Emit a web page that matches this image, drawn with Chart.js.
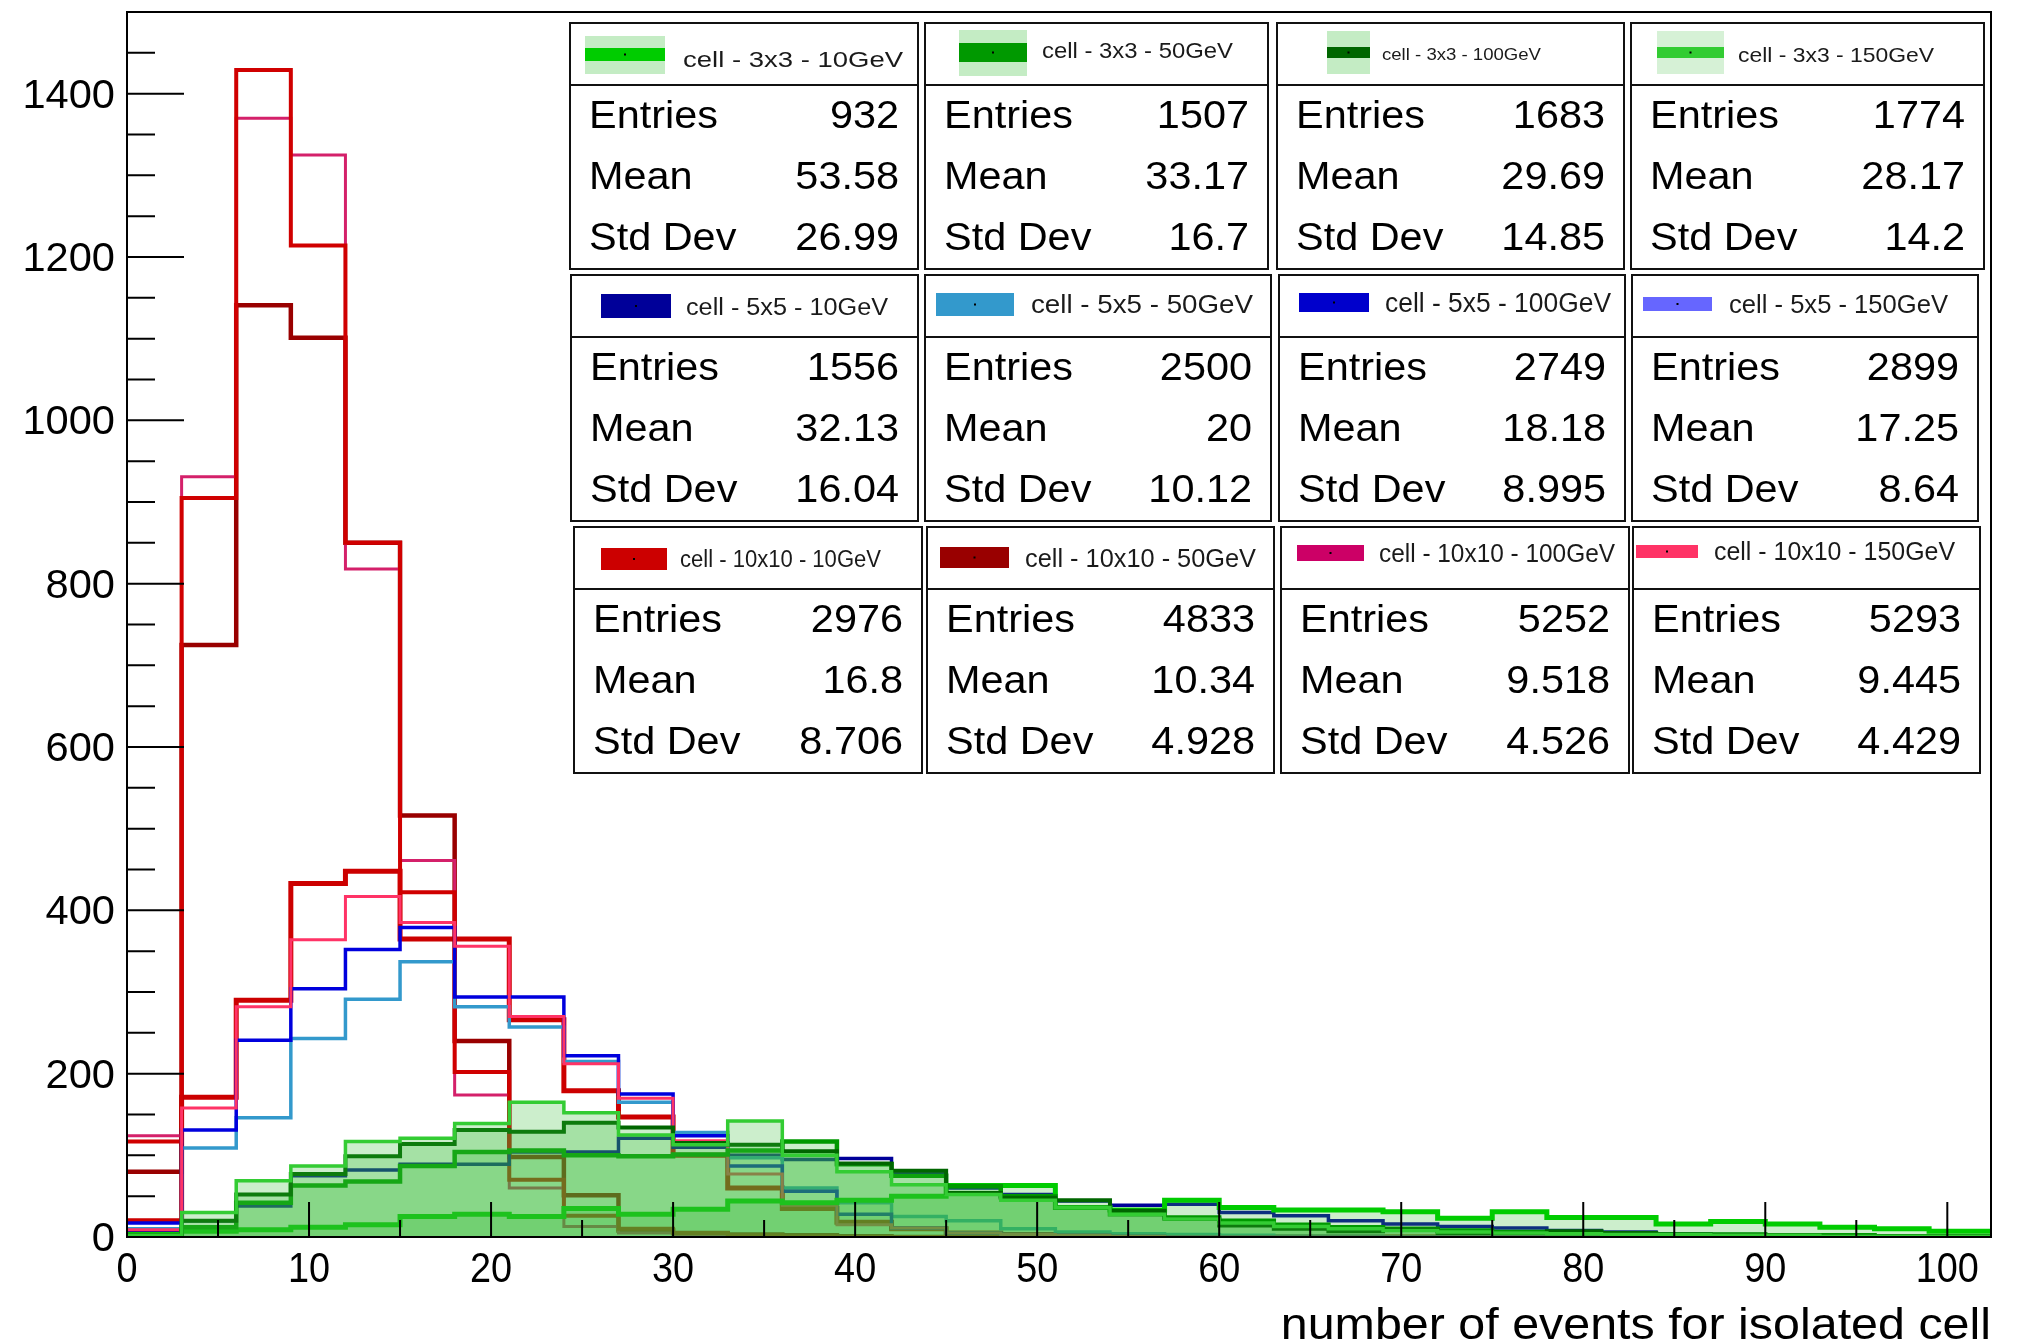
<!DOCTYPE html>
<html>
<head>
<meta charset="utf-8">
<title>number of events for isolated cell</title>
<script src="https://cdn.jsdelivr.net/npm/chart.js@4.4.0/dist/chart.umd.min.js"></script>
<style>
  html, body { margin: 0; padding: 0; background: #ffffff; }
  #wrap { position: relative; width: 2023px; height: 1340px; }
  canvas { display: block; }
</style>
</head>
<body>
<div id="wrap"><canvas id="hist" width="2023" height="1340"></canvas></div>
<script>
// ---- binning and axis ranges ----
const binWidth = 3;
const nBins = 34;
const xMax = 102.4;
const yMax = 1500;
const xTickValues = [0, 10, 20, 30, 40, 50, 60, 70, 80, 90, 100];
const xTickLabels = ['0', '10', '20', '30', '40', '50', '60', '70', '80', '90', '100'];
const yTickValues = [0, 200, 400, 600, 800, 1000, 1200, 1400];
const yTickLabels = ['0', '200', '400', '600', '800', '1000', '1200', '1400'];
const xTitle = 'number of events for isolated cell';

// ---- bin contents (34 bins of width 3) ----
const cell3x3_10GeV   = [3, 7, 9, 12, 15, 25, 28, 25, 35, 28, 34, 44, 42, 45, 50, 63, 63, 36, 33, 45, 36, 33, 33, 31, 23, 31, 24, 24, 16, 19, 16, 12, 10, 7];
const cell3x3_50GeV   = [1, 12, 42, 63, 68, 87, 104, 106, 100, 99, 101, 106, 117, 89, 75, 62, 50, 36, 28, 24, 20, 15, 12, 10, 8, 6, 5, 4, 3, 3, 2, 2, 1, 1];
const cell3x3_100GeV  = [2, 20, 52, 77, 99, 114, 131, 129, 140, 134, 115, 113, 105, 90, 81, 54, 48, 45, 32, 22, 14, 10, 7, 9, 5, 5, 7, 5, 3, 2, 2, 1, 1, 1];
const cell3x3_150GeV  = [2, 30, 69, 87, 117, 121, 139, 165, 152, 125, 113, 142, 100, 80, 64, 52, 45, 36, 28, 22, 17, 13, 10, 8, 6, 5, 4, 3, 3, 2, 2, 1, 1, 1];
const cell5x5_10GeV   = [8, 20, 38, 75, 82, 89, 89, 104, 104, 121, 110, 100, 95, 96, 77, 60, 52, 44, 39, 40, 30, 26, 20, 16, 13, 11, 8, 6, 4, 3, 2, 2, 1, 1];
const cell5x5_50GeV   = [10, 109, 146, 243, 291, 337, 282, 257, 215, 165, 128, 97, 60, 42, 25, 20, 10, 6, 4, 3, 2, 1, 1, 0, 0, 0, 0, 0, 0, 0, 0, 0, 0, 0];
const cell5x5_100GeV  = [17, 131, 241, 304, 352, 379, 294, 294, 222, 175, 124, 87, 56, 28, 11, 5, 3, 2, 1, 0, 0, 0, 0, 0, 0, 0, 0, 0, 0, 0, 0, 0, 0, 0];
const cell5x5_150GeV  = [9, 158, 282, 364, 417, 385, 356, 270, 212, 170, 118, 77, 39, 15, 11, 5, 3, 2, 1, 0, 0, 0, 0, 0, 0, 0, 0, 0, 0, 0, 0, 0, 0, 0];
const cell10x10_10GeV  = [20, 171, 290, 433, 448, 365, 365, 266, 179, 147, 100, 60, 35, 18, 10, 5, 3, 2, 1, 1, 0, 0, 0, 0, 0, 0, 0, 0, 0, 0, 0, 0, 0, 0];
const cell10x10_50GeV  = [80, 725, 1141, 1101, 850, 516, 240, 98, 51, 8, 5, 3, 2, 1, 0, 0, 0, 0, 0, 0, 0, 0, 0, 0, 0, 0, 0, 0, 0, 0, 0, 0, 0, 0];
const cell10x10_100GeV = [117, 905, 1429, 1214, 850, 422, 202, 70, 26, 10, 5, 2, 1, 0, 0, 0, 0, 0, 0, 0, 0, 0, 0, 0, 0, 0, 0, 0, 0, 0, 0, 0, 0, 0];
const cell10x10_150GeV = [124, 931, 1370, 1325, 818, 461, 174, 60, 13, 5, 2, 1, 0, 0, 0, 0, 0, 0, 0, 0, 0, 0, 0, 0, 0, 0, 0, 0, 0, 0, 0, 0, 0, 0];

// ---- statistics boxes ----
const seriesNames = [
  'cell - 3x3 - 10GeV', 'cell - 3x3 - 50GeV', 'cell - 3x3 - 100GeV', 'cell - 3x3 - 150GeV',
  'cell - 5x5 - 10GeV', 'cell - 5x5 - 50GeV', 'cell - 5x5 - 100GeV', 'cell - 5x5 - 150GeV',
  'cell - 10x10 - 10GeV', 'cell - 10x10 - 50GeV', 'cell - 10x10 - 100GeV', 'cell - 10x10 - 150GeV'
];
const statEntries = ['932', '1507', '1683', '1774', '1556', '2500', '2749', '2899', '2976', '4833', '5252', '5293'];
const statMeans   = ['53.58', '33.17', '29.69', '28.17', '32.13', '20', '18.18', '17.25', '16.8', '10.34', '9.518', '9.445'];
const statStdDevs = ['26.99', '16.7', '14.85', '14.2', '16.04', '10.12', '8.995', '8.64', '8.706', '4.928', '4.526', '4.429'];
const statRowNames = ['Entries', 'Mean', 'Std Dev'];

// ---- styling ----
const seriesValues = [
  cell3x3_10GeV, cell3x3_50GeV, cell3x3_100GeV, cell3x3_150GeV,
  cell5x5_10GeV, cell5x5_50GeV, cell5x5_100GeV, cell5x5_150GeV,
  cell10x10_10GeV, cell10x10_50GeV, cell10x10_100GeV, cell10x10_150GeV
];
const lineColors = ['#00cc00', '#009900', '#006600', '#33cc33',
                    '#000099', '#3399cc', '#0000dd', '#ff3366',
                    '#cc0000', '#990000', '#d00000', '#d4206a'];
const lineWidths = [5, 4.5, 4, 3.5, 3.5, 3.5, 3.5, 3, 5, 4.5, 4, 3];
const greenFill = 'rgba(51, 187, 51, 0.25)';
const filled = [true, true, true, true, false, false, false, false, false, false, false, false];
// lower draws on top: the 3x3 histograms lie over everything else
const drawOrder = [3, 2, 1, 0, 7, 6, 5, 4, 11, 10, 8, 9];
const swatchColors = ['#00cc00', '#009900', '#006600', '#33cc33',
                      '#000099', '#3399cc', '#0000cc', '#6666ff',
                      '#cc0000', '#990000', '#cc0066', '#ff3366'];
const swatchBack = ['#c4ecc4', '#c4ecc4', '#c4ecc4', '#d6f1d6'];

const FONT = '"Liberation Sans", Arial, Helvetica, sans-serif';

// box frames: [left, right] per column, top per row
const boxTops = [23, 275, 527];
const boxHeight = 246;
const boxSep = 62;
const boxCols = [
  [[570, 918], [925, 1268], [1277, 1624], [1631, 1984]],
  [[571, 918], [925, 1271], [1279, 1625], [1632, 1978]],
  [[574, 922], [927, 1274], [1281, 1629], [1633, 1980]]
];
// header: swatch rectangle, stripe band, text span, baseline, font size
const boxHeads = [
  { sw: [585, 36, 665, 74], stripe: [48, 61], tx: [683, 903], base: 67, size: 22 },
  { sw: [959, 30, 1027, 76], stripe: [43, 62], tx: [1042, 1233], base: 58, size: 22 },
  { sw: [1327, 31, 1370, 74], stripe: [47, 58], tx: [1382, 1541], base: 60, size: 16 },
  { sw: [1657, 31, 1724, 74], stripe: [47, 58], tx: [1738, 1934], base: 62, size: 21 },
  { sw: [601, 294, 671, 318], tx: [686, 888], base: 315, size: 23 },
  { sw: [936, 293, 1014, 316], tx: [1031, 1253], base: 313, size: 26 },
  { sw: [1299, 293, 1369, 312], tx: [1385, 1611], base: 312, size: 27 },
  { sw: [1643, 297, 1712, 311], tx: [1729, 1948], base: 313, size: 26 },
  { sw: [601, 548, 667, 570], tx: [680, 881], base: 567, size: 23 },
  { sw: [940, 547, 1009, 568], tx: [1025, 1256], base: 567, size: 26 },
  { sw: [1297, 545, 1364, 561], tx: [1379, 1615], base: 562, size: 26 },
  { sw: [1636, 545, 1698, 558], tx: [1714, 1955], base: 560, size: 26 }
];

// ---- helpers ----
const binEdges = Array.from({ length: nBins }, (_, k) => k * binWidth);

function histPoints(values) {
  const pts = values.map((v, k) => ({ x: binEdges[k], y: v }));
  pts.push({ x: xMax, y: values[values.length - 1] });
  return pts;
}

function drawText(ctx, str, x, y, size, align, sx, color) {
  ctx.save();
  ctx.font = size + 'px ' + FONT;
  ctx.fillStyle = color || '#000';
  ctx.textAlign = align;
  ctx.textBaseline = 'alphabetic';
  ctx.translate(x, y);
  ctx.scale(sx, 1);
  ctx.fillText(str, 0, 0);
  ctx.restore();
}

function drawFitted(ctx, str, x0, x1, y, size, color) {
  ctx.save();
  ctx.font = size + 'px ' + FONT;
  const w = ctx.measureText(str).width;
  ctx.restore();
  drawText(ctx, str, x0, y, size, 'left', (x1 - x0) / w, color);
}

// ROOT-style frame: ticks inside the frame, labels outside, stat boxes on top
const rootFrame = {
  id: 'rootFrame',
  afterDatasetsDraw(chart) {
    const { ctx, chartArea: a, scales } = chart;
    const sx = scales.x, sy = scales.y;
    ctx.save();
    ctx.strokeStyle = '#000';
    ctx.lineWidth = 2;
    ctx.beginPath();
    for (let v = 0; v <= yMax; v += 50) {
      const py = sy.getPixelForValue(v);
      const len = (v % 200 === 0) ? 57 : 28;
      ctx.moveTo(a.left, py);
      ctx.lineTo(a.left + len, py);
    }
    for (let v = 0; v <= xMax; v += 5) {
      const px = sx.getPixelForValue(v);
      const len = (v % 10 === 0) ? 35 : 17;
      ctx.moveTo(px, a.bottom);
      ctx.lineTo(px, a.bottom - len);
    }
    ctx.stroke();
    ctx.strokeRect(a.left, a.top, a.right - a.left, a.bottom - a.top);

    yTickValues.forEach((v, i) => {
      drawText(ctx, yTickLabels[i], 115, sy.getPixelForValue(v) + 14, 40, 'right', 1.04);
    });
    xTickValues.forEach((v, i) => {
      drawText(ctx, xTickLabels[i], sx.getPixelForValue(v), 1282, 42, 'center', 0.9);
    });
    drawText(ctx, xTitle, a.right, 1339, 44, 'right', 1.1);

    // statistics boxes
    for (let i = 0; i < seriesNames.length; i++) {
      const row = Math.floor(i / 4), col = i % 4;
      const top = boxTops[row];
      const [l, r] = boxCols[row][col];
      ctx.fillStyle = '#ffffff';
      ctx.fillRect(l, top, r - l, boxHeight);
      ctx.lineWidth = 2;
      ctx.strokeStyle = '#111';
      ctx.strokeRect(l, top, r - l, boxHeight);
      ctx.beginPath();
      ctx.moveTo(l, top + boxSep);
      ctx.lineTo(r, top + boxSep);
      ctx.stroke();

      const h = boxHeads[i];
      const [x0, y0, x1, y1] = h.sw;
      if (h.stripe) {
        ctx.fillStyle = swatchBack[col];
        ctx.fillRect(x0, y0, x1 - x0, y1 - y0);
        ctx.fillStyle = swatchColors[i];
        ctx.fillRect(x0, h.stripe[0], x1 - x0, h.stripe[1] - h.stripe[0]);
      } else {
        ctx.fillStyle = swatchColors[i];
        ctx.fillRect(x0, y0, x1 - x0, y1 - y0);
      }
      ctx.fillStyle = '#000';
      ctx.fillRect((x0 + x1) / 2 - 1, (h.stripe ? (h.stripe[0] + h.stripe[1]) / 2 : (y0 + y1) / 2) - 1, 2, 2);
      drawFitted(ctx, seriesNames[i], h.tx[0], h.tx[1], h.base, h.size, '#1a1a1a');

      const vals = [statEntries[i], statMeans[i], statStdDevs[i]];
      [105, 166, 227].forEach((dy, k) => {
        drawText(ctx, statRowNames[k], l + 19, top + dy, 38, 'left', 1.09);
        drawText(ctx, vals[k], r - 19, top + dy, 38, 'right', 1.09);
      });
    }
    ctx.restore();
  }
};

const datasets = seriesValues.map((vals, i) => ({
  label: seriesNames[i],
  data: histPoints(vals),
  stepped: true,
  borderColor: lineColors[i],
  borderWidth: lineWidths[i],
  backgroundColor: filled[i] ? greenFill : 'transparent',
  fill: filled[i] ? 'origin' : false,
  pointRadius: 0,
  borderJoinStyle: 'miter',
  borderCapStyle: 'butt',
  order: drawOrder[i]
}));

new Chart(document.getElementById('hist'), {
  type: 'line',
  data: { datasets },
  options: {
    responsive: false,
    animation: false,
    devicePixelRatio: 1,
    layout: { padding: { left: 127, top: 12, right: 32, bottom: 103 } },
    scales: {
      x: { type: 'linear', min: 0, max: xMax, display: false },
      y: { type: 'linear', min: 0, max: yMax, display: false }
    },
    plugins: {
      legend: { display: false },
      tooltip: { enabled: false }
    },
    elements: { line: { tension: 0 } }
  },
  plugins: [rootFrame]
});
</script>
</body>
</html>
